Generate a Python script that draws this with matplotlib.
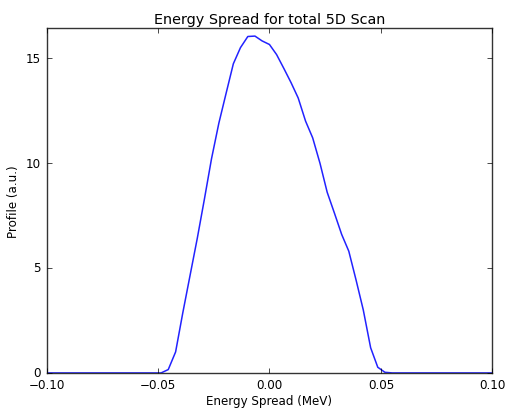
import matplotlib
matplotlib.use("Agg")
import matplotlib.pyplot as plt
import numpy as np

plt.style.use('classic')
plt.rcParams['font.family'] = ['DejaVu Sans']

energy = [-0.1000, -0.0486, -0.0454, -0.0421, -0.0389, -0.0357, -0.0324, -0.0292,
          -0.0260, -0.0227, -0.0195, -0.0162, -0.0130, -0.0097, -0.0065, -0.0033,
          0.0000, 0.0032, 0.0065, 0.0097, 0.0129, 0.0162, 0.0194, 0.0227,
          0.0259, 0.0292, 0.0324, 0.0356, 0.0389, 0.0421, 0.0454, 0.0486,
          0.0518, 0.0551, 0.1000]
profile = [0.0, 0.0, 0.16, 1.0, 2.85, 4.6, 6.4, 8.27,
           10.2, 11.9, 13.3, 14.73, 15.5, 16.03, 16.05, 15.82,
           15.65, 15.17, 14.5, 13.83, 13.1, 12.0, 11.2, 9.98,
           8.61, 7.6, 6.6, 5.8, 4.41, 3.0, 1.2, 0.27,
           0.03, 0.0, 0.0]

fig = plt.figure(figsize=(5.06, 4.10), dpi=100, facecolor='white')
ax = fig.add_axes([0.092, 0.088, 0.881, 0.841])
ax.plot(energy, profile, color='#2222ff', linewidth=1.1)
ax.set_xlim(-0.1, 0.1)
ax.set_ylim(0, 16.43)
ax.set_xticks([-0.10, -0.05, 0.00, 0.05, 0.10])
ax.set_yticks([0, 5, 10, 15])
ax.set_title('Energy Spread for total 5D Scan', fontsize=10.4, pad=4)
ax.set_xlabel('Energy Spread (MeV)', fontsize=8.6, labelpad=2)
ax.set_ylabel('Profile (a.u.)', fontsize=8.6, labelpad=4)
ax.tick_params(labelsize=8.6, length=3.5, pad=4)
for sp in ax.spines.values():
    sp.set_color('#333333')
fig.savefig('out.png', dpi=100, facecolor='white')
